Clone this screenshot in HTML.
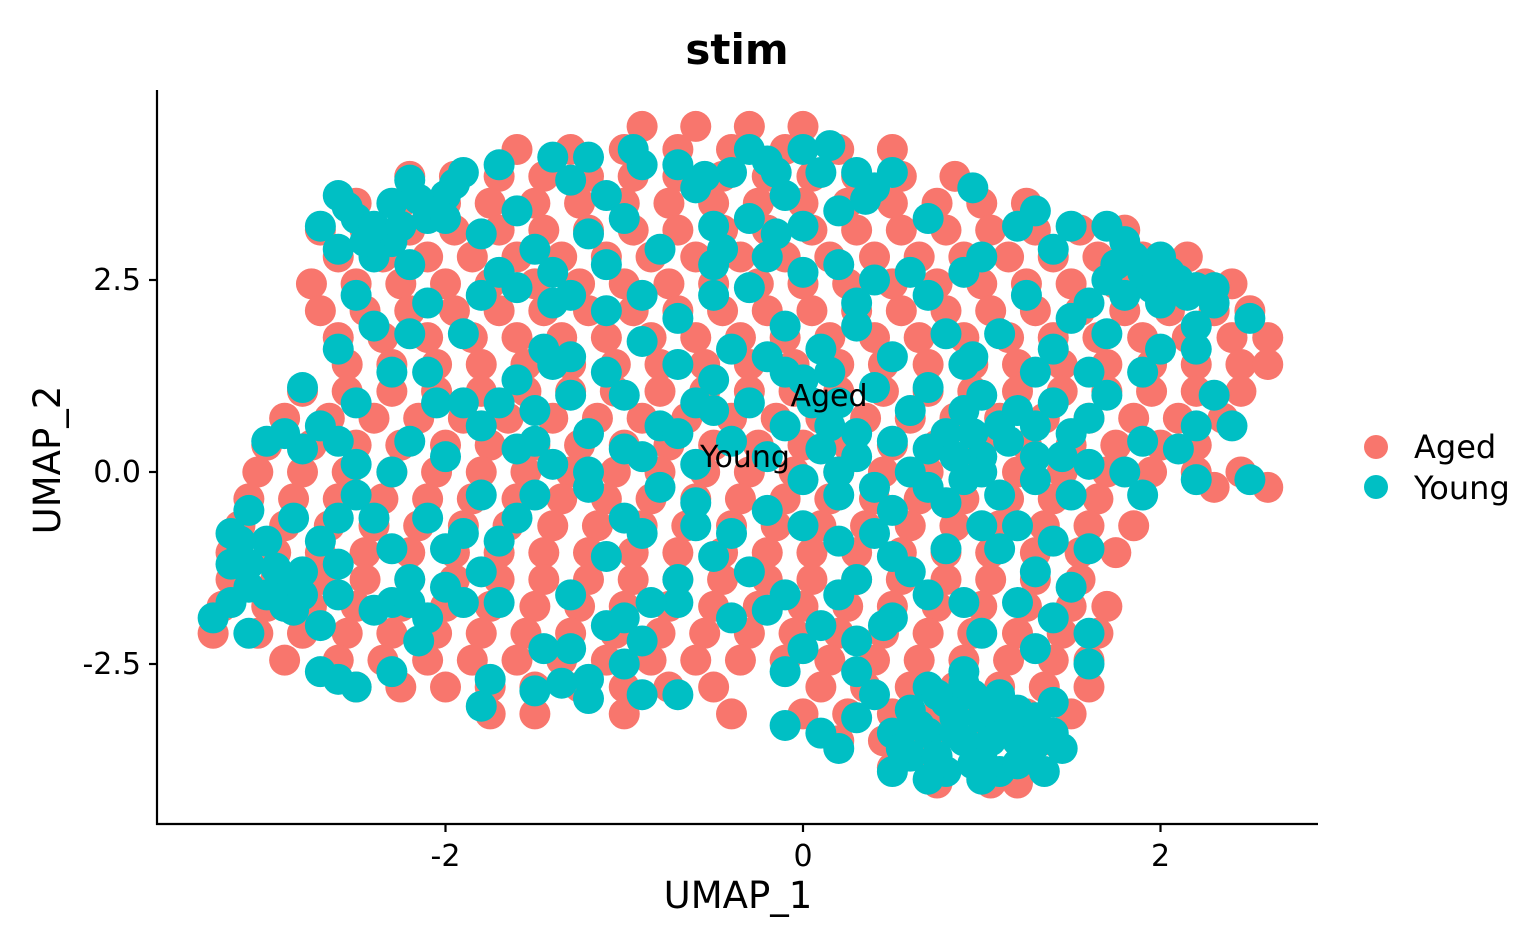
<!DOCTYPE html>
<html><head><meta charset="utf-8">
<style>
html,body{margin:0;padding:0;background:#fff;}
svg{display:block;font-family:"DejaVu Sans","Liberation Sans",sans-serif;}
</style></head>
<body>
<svg id="chart" width="1536" height="949" viewBox="0 0 1536 949">
<text x="737" y="64" text-anchor="middle" font-size="42" font-weight="bold">stim</text>
<g id="points"></g>
<g id="axes"></g>
<text x="829" y="406" text-anchor="middle" font-size="30">Aged</text>
<text x="745" y="467" text-anchor="middle" font-size="30">Young</text>
<text x="738" y="908" text-anchor="middle" font-size="37">UMAP_1</text>
<text transform="translate(60,460) rotate(-90)" text-anchor="middle" font-size="37">UMAP_2</text>
<g>
<circle cx="1376" cy="447" r="12" fill="#F8766D"/>
<text x="1414" y="458" font-size="32">Aged</text>
<circle cx="1376" cy="487" r="12" fill="#00BFC4"/>
<text x="1414" y="499" font-size="32">Young</text>
</g>
</svg>
<script>
const xTicks=[-2,0,2];
const yTicks=[-2.5,0.0,2.5];
const xTickLabels=["-2","0","2"];
const yTickLabels=["-2.5","0.0","2.5"];
const agedRows=[
[4.5,[-0.9,-0.6,-0.3,0.0]],
[4.2,[-1.6,-1.3,-1.0,-0.7,-0.4,-0.1,0.2,0.5]],
[3.85,[-2.2,-1.95,-1.7,-1.45,-1.2,-0.95,-0.7,-0.45,-0.2,0.05,0.3,0.55,0.85]],
[3.5,[-2.5,-2.25,-2.0,-1.75,-1.5,-1.25,-1.0,-0.75,-0.5,-0.25,0.0,0.25,0.5,0.75,1.0,1.25]],
[3.15,[-2.7,-2.45,-2.2,-1.95,-1.7,-1.45,-1.2,-0.95,-0.7,-0.45,-0.2,0.05,0.3,0.55,0.8,1.05,1.3,1.55,1.8]],
[2.8,[-2.6,-2.35,-2.1,-1.85,-1.6,-1.35,-1.1,-0.85,-0.6,-0.35,-0.1,0.15,0.4,0.65,0.9,1.15,1.4,1.65,1.9,2.15]],
[2.45,[-2.75,-2.5,-2.25,-2.0,-1.75,-1.5,-1.25,-1.0,-0.75,-0.5,-0.25,0.0,0.25,0.5,0.75,1.0,1.25,1.5,1.75,2.0,2.25,2.4]],
[2.1,[-2.7,-2.45,-2.2,-1.95,-1.7,-1.45,-1.2,-0.95,-0.7,-0.45,-0.2,0.05,0.3,0.55,0.8,1.05,1.3,1.55,1.8,2.05,2.3,2.5]],
[1.75,[-2.6,-2.35,-2.1,-1.85,-1.6,-1.35,-1.1,-0.85,-0.6,-0.35,-0.1,0.15,0.4,0.65,0.9,1.15,1.4,1.65,1.9,2.15,2.4,2.6]],
[1.4,[-2.55,-2.3,-2.05,-1.8,-1.55,-1.3,-1.05,-0.8,-0.55,-0.3,-0.05,0.2,0.45,0.7,0.95,1.2,1.45,1.7,1.95,2.2,2.45,2.6]],
[1.05,[-2.8,-2.55,-2.3,-2.05,-1.8,-1.55,-1.3,-1.05,-0.8,-0.55,-0.3,-0.05,0.2,0.45,0.7,0.95,1.2,1.45,1.7,1.95,2.2,2.45]],
[0.7,[-2.9,-2.65,-2.4,-2.15,-1.9,-1.65,-1.4,-1.15,-0.9,-0.65,-0.4,-0.15,0.1,0.35,0.6,0.85,1.1,1.35,1.6,1.85,2.1,2.35]],
[0.35,[-3.0,-2.75,-2.5,-2.25,-2.0,-1.75,-1.5,-1.25,-1.0,-0.75,-0.5,-0.25,0.0,0.25,0.5,0.75,1.0,1.25,1.5,1.75,2.0,2.2]],
[0.0,[-3.05,-2.8,-2.55,-2.3,-2.05,-1.8,-1.55,-1.3,-1.05,-0.8,-0.55,-0.3,-0.05,0.2,0.45,0.7,0.95,1.2,1.45,1.7,1.95,2.2,2.45]],
[-0.2,[2.3,2.6]],
[-0.35,[-3.1,-2.85,-2.6,-2.35,-2.1,-1.85,-1.6,-1.35,-1.1,-0.85,-0.6,-0.35,-0.1,0.15,0.4,0.65,0.9,1.15,1.4,1.65]],
[-0.7,[-3.15,-2.9,-2.65,-2.4,-2.15,-1.9,-1.65,-1.4,-1.15,-0.9,-0.65,-0.4,-0.15,0.1,0.35,0.6,0.85,1.1,1.35,1.6,1.85]],
[-1.05,[-3.2,-2.95,-2.7,-2.45,-2.2,-1.95,-1.7,-1.45,-1.2,-0.95,-0.7,-0.45,-0.2,0.05,0.3,0.55,0.8,1.05,1.3,1.55,1.75]],
[-1.4,[-3.2,-2.95,-2.7,-2.45,-2.2,-1.95,-1.7,-1.45,-1.2,-0.95,-0.7,-0.45,-0.2,0.05,0.3,0.55,0.8,1.05,1.3,1.55]],
[-1.75,[-3.25,-3.0,-2.75,-2.5,-2.25,-2.0,-1.75,-1.5,-1.25,-1.0,-0.75,-0.5,-0.25,0.0,0.25,0.5,0.75,1.0,1.25,1.5,1.7]],
[-2.1,[-3.3,-3.05,-2.8,-2.55,-2.3,-2.05,-1.8,-1.55,-1.3,-1.05,-0.8,-0.55,-0.3,-0.05,0.2,0.45,0.7,0.95,1.2,1.45,1.65]],
[-2.45,[-2.9,-2.6,-2.35,-2.1,-1.85,-1.6,-1.35,-1.1,-0.85,-0.6,-0.35,-0.1,0.15,0.4,0.65,0.9,1.15,1.4,1.6]],
[-2.8,[-2.5,-2.25,-2.0,-1.75,-1.5,-1.25,-1.0,-0.75,-0.5,0.1,0.35,0.6,0.85,1.1,1.35,1.6]],
[-3.15,[-1.75,-1.5,-1.0,-0.4,0.0,0.25,0.5,0.75,1.0,1.25,1.5]],
[-3.5,[0.2,0.45,0.7,0.95,1.2,1.4]],
[-3.85,[0.5,0.75,1.0,1.25]],
[-4.05,[0.75,1.05,1.2]]
];
const youngPoints=[[-2.6,3.6],[-2.5,3.3],[-2.7,3.2],[-2.3,3.0],[-2.2,3.8],[-2.0,3.6],[-2.1,3.3],[-1.9,3.9],[-2.3,3.5],[-2.6,2.9],[-2.4,2.8],[-2.2,2.7],[-1.8,3.1],[-1.6,3.4],[-1.7,4.0],[-1.5,2.9],[-1.3,3.8],[-1.4,4.1],[-1.2,4.1],[-1.1,3.6],[-1.0,3.3],[-1.2,3.1],[-0.9,4.0],[-0.95,4.2],[-0.7,4.0],[-0.6,3.7],[-0.5,3.2],[-0.4,3.9],[-0.3,4.2],[-0.15,3.9],[0.0,4.2],[0.15,4.25],[-0.1,3.6],[0.3,3.9],[0.4,3.7],[0.5,3.9],[-0.3,3.3],[0.0,3.2],[0.2,3.4],[-0.8,2.9],[-1.1,2.7],[-1.4,2.6],[-1.7,2.6],[-2.5,2.3],[-2.4,1.9],[-2.6,1.6],[-2.1,2.2],[-2.2,1.8],[-1.9,1.8],[-1.8,2.3],[-1.6,2.4],[-1.4,2.2],[-1.3,2.3],[-1.1,2.1],[-0.9,2.3],[-0.7,2.0],[-0.5,2.3],[-0.3,2.4],[-0.5,2.7],[-0.2,2.8],[0.0,2.6],[0.2,2.7],[0.4,2.5],[0.3,2.2],[0.6,2.6],[0.7,2.3],[0.9,2.6],[1.0,2.8],[0.7,3.3],[0.95,3.7],[1.2,3.2],[1.3,3.4],[1.5,3.2],[1.4,2.9],[1.25,2.3],[1.5,2.0],[1.7,3.2],[1.8,3.0],[1.75,2.7],[1.9,2.6],[2.0,2.8],[2.1,2.5],[2.2,2.4],[2.3,2.2],[2.5,2.0],[1.8,2.3],[2.0,2.2],[2.2,1.9],[1.6,2.2],[2.0,1.6],[2.2,1.6],[1.7,1.8],[1.4,1.6],[1.3,1.3],[1.6,1.3],[1.9,1.3],[2.3,1.0],[2.4,0.6],[2.2,0.6],[2.1,0.3],[2.2,-0.1],[2.5,-0.1],[1.9,-0.3],[1.8,0.0],[1.9,0.4],[1.6,0.7],[1.4,0.9],[1.7,1.0],[1.5,-0.3],[1.3,0.2],[1.1,0.6],[1.0,1.0],[0.9,1.4],[0.8,1.8],[0.7,1.1],[0.5,1.5],[0.3,1.9],[0.1,1.6],[-0.1,1.9],[-0.2,1.5],[0.0,1.2],[0.2,0.9],[0.4,1.1],[0.6,0.8],[0.8,0.5],[1.0,0.2],[0.9,-0.1],[0.7,0.3],[0.5,0.4],[0.3,0.5],[0.1,0.3],[-0.1,0.6],[-0.3,0.9],[-0.5,1.2],[-0.7,1.4],[-0.9,1.7],[-0.4,1.6],[-0.6,0.9],[-0.8,0.6],[-1.0,1.0],[-1.1,1.3],[-1.3,1.0],[-1.4,1.4],[-1.6,1.2],[-1.2,0.5],[-0.9,0.2],[-0.6,0.1],[-0.4,0.4],[-0.2,0.2],[0.0,-0.1],[0.2,0.0],[0.4,-0.2],[0.6,0.0],[0.8,-0.4],[1.1,-0.3],[1.2,-0.7],[1.4,-0.9],[1.6,-1.0],[1.3,-1.3],[1.5,-1.5],[1.2,-1.7],[1.4,-1.9],[1.6,-2.1],[1.6,-2.5],[1.3,-2.3],[1.0,-2.1],[0.9,-1.7],[0.7,-1.6],[0.5,-1.9],[0.3,-1.4],[0.5,-1.1],[0.2,-0.9],[0.0,-0.7],[-0.2,-0.5],[-0.4,-0.8],[-0.6,-0.7],[-0.5,-1.1],[-0.3,-1.3],[-0.1,-1.6],[0.1,-2.0],[0.2,-1.6],[0.3,-2.2],[0.45,-2.0],[0.0,-2.3],[-0.1,-2.6],[-0.2,-1.8],[0.3,-2.6],[0.4,-2.9],[0.3,-3.2],[0.5,-3.4],[0.1,-3.4],[-0.1,-3.3],[0.2,-3.6],[0.6,-3.1],[0.7,-2.8],[0.9,-2.6],[0.8,-3.0],[0.7,-3.4],[0.6,-3.7],[0.8,-3.9],[0.5,-3.9],[0.9,-3.5],[1.0,-3.2],[1.1,-2.9],[1.0,-3.7],[1.1,-3.9],[1.2,-3.5],[1.3,-3.2],[1.25,-3.7],[1.4,-3.4],[1.4,-3.0],[1.35,-3.9],[0.85,-3.2],[0.95,-2.9],[1.15,-3.3],[-0.4,-1.9],[-0.7,-1.4],[-0.9,-0.8],[-1.1,-1.1],[-1.0,-0.6],[-1.2,-0.2],[-0.8,-0.2],[-0.6,-0.4],[-1.3,-1.6],[-1.1,-2.0],[-1.3,-2.3],[-1.2,-2.7],[-1.0,-2.5],[-0.9,-2.9],[-0.7,-2.9],[-0.9,-2.2],[-0.7,-1.7],[-1.45,-2.3],[-1.5,-2.85],[-1.35,-2.75],[-1.2,-2.95],[-1.8,-3.05],[-1.75,-2.7],[-1.7,-1.7],[-1.9,-1.7],[-1.8,-1.3],[-2.0,-1.5],[-2.1,-1.9],[-2.3,-1.7],[-2.4,-1.8],[-2.2,-1.4],[-2.0,-1.0],[-2.3,-1.0],[-2.1,-0.6],[-1.9,-0.8],[-1.7,-0.9],[-1.6,-0.6],[-1.5,-0.3],[-1.4,0.1],[-1.6,0.3],[-1.8,-0.3],[-2.0,0.2],[-2.2,0.4],[-2.3,0.0],[-2.5,-0.3],[-2.6,-0.6],[-2.7,-0.9],[-2.4,-0.6],[-2.6,-1.2],[-2.8,-1.3],[-2.9,-1.5],[-3.0,-1.6],[-3.1,-1.2],[-3.2,-0.8],[-3.2,-1.2],[-3.1,-0.5],[-3.0,-0.9],[-2.85,-0.6],[-3.3,-1.9],[-3.2,-1.7],[-3.1,-2.1],[-2.85,-1.8],[-2.6,-1.6],[-2.7,-2.0],[-2.7,-2.6],[-2.5,-2.8],[-2.6,-2.7],[-2.3,-2.6],[-2.15,-2.2],[-2.2,-1.7],[-2.7,0.6],[-2.6,0.4],[-2.5,0.1],[-2.8,0.3],[-3.0,0.4],[-2.9,0.5],[-2.8,1.1],[-2.5,0.9],[-2.3,1.3],[-2.1,1.3],[-2.05,0.9],[-1.9,0.9],[-1.8,0.6],[-1.7,0.9],[-1.5,0.8],[-1.3,1.5],[-1.45,1.6],[-1.5,0.4],[-1.2,0.0],[-1.0,0.3],[-0.7,0.5],[-0.5,0.8],[0.2,-0.3],[0.5,-0.5],[0.4,-0.8],[0.6,-1.3],[0.8,-1.0],[1.0,-0.7],[1.1,-1.0],[1.2,0.8],[1.5,0.5],[1.6,0.1],[1.3,-0.1],[0.95,1.5],[1.1,1.8],[-1.0,-1.9],[-0.85,-1.7],
[0.75,-2.9],[0.85,-3.4],[1.05,-3.5],[0.95,-3.8],[1.2,-3.8],[0.65,-3.3],[1.05,-3.05],[0.75,-3.7],[1.3,-3.55],[0.9,-2.75],[1.2,-3.1],[0.55,-3.6],[1.45,-3.6],[0.7,-4.0],[1.0,-4.0],
[-2.55,3.45],[-2.4,3.2],[-2.15,3.55],[-2.0,3.3],[-2.25,3.2],[-1.95,3.75],[-2.45,3.0],
[1.85,2.8],[2.05,2.6],[2.15,2.3],[1.95,2.4],[2.3,2.4],[1.7,2.5],
[0.9,0.8],[0.95,0.5],[1.0,0.0],[0.85,0.2],[0.7,-0.2],[1.15,0.4],[1.3,0.6],[1.45,0.2],[0.15,0.6],[0.3,0.2],[0.05,0.9],[-0.1,1.3],[0.15,1.3],
[-3.15,-0.9],[-3.1,-1.5],[-2.95,-1.25],[-2.9,-1.75],[-2.8,-1.6],
[-0.55,3.85],[-0.2,4.05],[0.1,3.9],[0.35,3.55],[-0.45,2.9],[-0.15,3.1]];

const NS="http://www.w3.org/2000/svg";
function xScale(v){return 803+v*178.75;}
function yScale(v){return 472-v*76.8;}
const pg=document.getElementById('points');
function dot(x,y,color,name){
  const c=document.createElementNS(NS,'circle');
  c.setAttribute('cx',xScale(x));c.setAttribute('cy',yScale(y));
  c.setAttribute('r',15.5);c.setAttribute('fill',color);
  
  
  pg.appendChild(c);
}
agedRows.forEach(r=>r[1].forEach(x=>dot(x,r[0],'#F8766D','point-aged')));
youngPoints.forEach(p=>dot(p[0],p[1],'#00BFC4','point-young'));

const ag=document.getElementById('axes');
function line(x1,y1,x2,y2,name){
  const l=document.createElementNS(NS,'line');
  l.setAttribute('x1',x1);l.setAttribute('y1',y1);l.setAttribute('x2',x2);l.setAttribute('y2',y2);
  l.setAttribute('stroke','#000');l.setAttribute('stroke-width',2.2);
  
  
  ag.appendChild(l);
}
function txt(x,y,s,anchor,name){
  const t=document.createElementNS(NS,'text');
  t.setAttribute('x',x);t.setAttribute('y',y);t.setAttribute('text-anchor',anchor);
  t.setAttribute('font-size',30);t.textContent=s;
  
  
  ag.appendChild(t);
}
line(157,90,157,825,'y-axis-line');
line(156,824,1318,824,'x-axis-line');
xTicks.forEach((v,i)=>{line(xScale(v),824,xScale(v),832,'x-tick');txt(xScale(v),866,xTickLabels[i],'middle','x-tick-label');});
yTicks.forEach((v,i)=>{line(149,yScale(v),157,yScale(v),'y-tick');txt(141,yScale(v)+10,yTickLabels[i],'end','y-tick-label');});
</script>
</body></html>
